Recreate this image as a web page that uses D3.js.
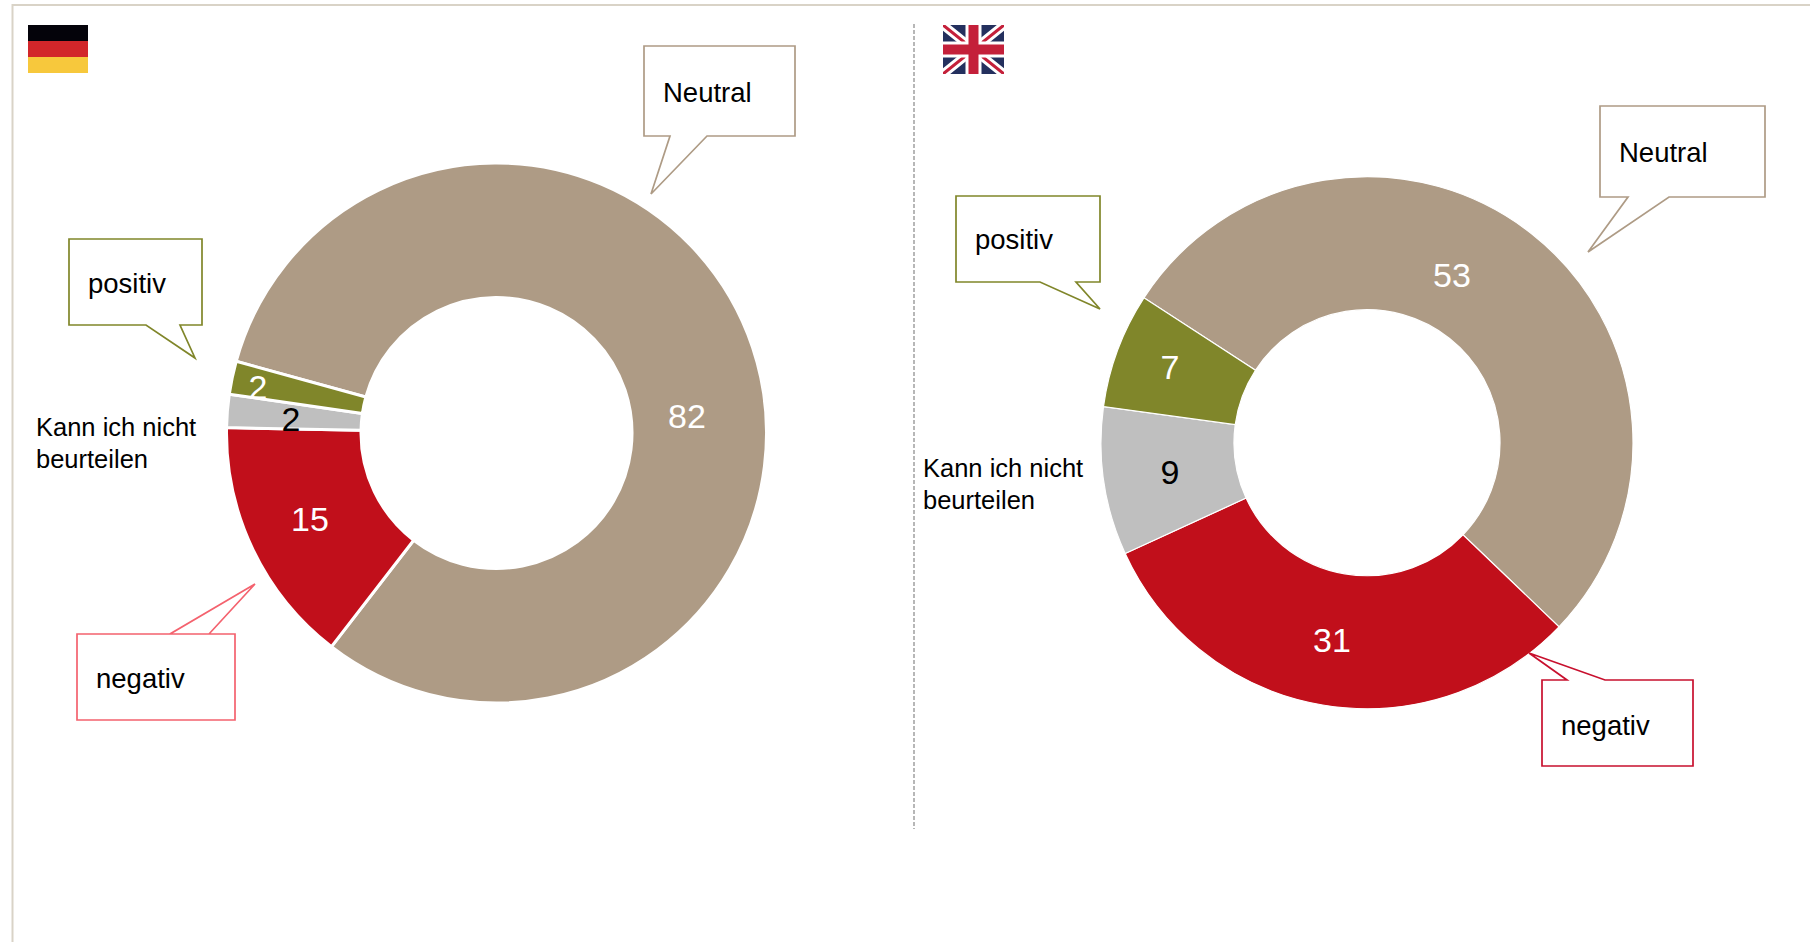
<!DOCTYPE html>
<html>
<head>
<meta charset="utf-8">
<script src="https://cdn.jsdelivr.net/npm/d3@7"></script>
<style>
  html, body { margin: 0; padding: 0; background: #fff; }
  svg { display: block; font-family: "Liberation Sans", Arial, sans-serif; }
</style>
</head>
<body>
<svg id="chart" width="1810" height="942"></svg>
<script>
// Survey answers per country, in clockwise drawing order
const categories = ["Neutral", "negativ", "Kann ich nicht beurteilen", "positiv"];
const valuesGermany = [82, 15, 2, 2];
const valuesUK = [53, 31, 9, 7];
const sliceColors = ["#ae9b85", "#c10f1b", "#bfbfbf", "#80862a"];
const labelColors = ["#fff", "#fff", "#000", "#fff"];

const svg = d3.select("#chart");
const rad = d => d * Math.PI / 180;

// Outer frame and the dashed divider between the two panels
svg.append("path").attr("d", "M12.5,942V5H1810")
  .attr("fill", "none").attr("stroke", "#d9d3c7").attr("stroke-width", 2);
svg.append("line").attr("x1", 914).attr("x2", 914).attr("y1", 24).attr("y2", 829)
  .attr("stroke", "#a6a6a6").attr("stroke-width", 1.6).attr("stroke-dasharray", "4 2");

function donut(values, o) {
  const pie = d3.pie().sort(null).value(d => d)
    .startAngle(rad(o.start)).endAngle(rad(o.start + 360));
  const arc = d3.arc().innerRadius(o.inner).outerRadius(o.outer);
  const g = svg.append("g").attr("transform", `translate(${o.cx},${o.cy})`);
  g.selectAll("path").data(pie(values)).join("path")
    .attr("d", arc)
    .attr("fill", (d, i) => sliceColors[i])
    .attr("stroke", "#fff").attr("stroke-width", o.gap);
  g.selectAll("text").data(pie(values)).join("text")
    .attr("x", (d, i) => o.labels[i][0] - o.cx)
    .attr("y", (d, i) => o.labels[i][1] - o.cy)
    .attr("text-anchor", "middle").attr("dominant-baseline", "central")
    .attr("font-size", 34)
    .attr("fill", (d, i) => labelColors[i])
    .text(d => d.value);
}

donut(valuesGermany, {
  cx: 496.5, cy: 433, outer: 270, inner: 135.5, start: 285.4, gap: 3,
  labels: [[687, 416], [310, 519], [291, 419], [258, 387]]
});
donut(valuesUK, {
  cx: 1367, cy: 442.7, outer: 266, inner: 133, start: 303, gap: 1.2,
  labels: [[1452, 275], [1332, 640], [1170, 472], [1170, 367]]
});

// Callout boxes: rectangle with a pointed tail, tail points listed along the outline
function callout(text, color, box, tail, textPos) {
  const [x0, y0, x1, y1] = box;
  const pts = tail.edge === "bottom"
    ? [[x0, y0], [x1, y0], [x1, y1], tail.a, tail.tip, tail.b, [x0, y1]]
    : [[x0, y0], tail.b, tail.tip, tail.a, [x1, y0], [x1, y1], [x0, y1]];
  svg.append("path").attr("d", d3.line()(pts) + "Z")
    .attr("fill", "#fff").attr("stroke", color).attr("stroke-width", 1.7)
    .attr("stroke-linejoin", "miter");
  svg.append("text").attr("x", textPos[0]).attr("y", textPos[1])
    .attr("font-size", 27.5).attr("fill", "#000").text(text);
}

callout("Neutral", "#ae9b85", [644, 46, 795, 136],
  { edge: "bottom", a: [707, 136], tip: [651, 194], b: [670, 136] }, [663, 102]);
callout("positiv", "#80862a", [69, 239, 202, 325],
  { edge: "bottom", a: [180, 325], tip: [195, 358], b: [146, 325] }, [88, 293]);
callout("negativ", "#f4626e", [77, 634, 235, 720],
  { edge: "top", a: [170, 634], tip: [255, 584], b: [209, 634] }, [96, 688]);

callout("Neutral", "#ae9b85", [1600, 106, 1765, 197],
  { edge: "bottom", a: [1669, 197], tip: [1588, 252], b: [1628, 197] }, [1619, 162]);
callout("positiv", "#80862a", [956, 196, 1100, 282],
  { edge: "bottom", a: [1076, 282], tip: [1100, 309], b: [1040, 282] }, [975, 249]);
callout("negativ", "#c8102e", [1542, 680, 1693, 766],
  { edge: "top", a: [1605, 680], tip: [1529, 653], b: [1567, 680] }, [1561, 735]);

// Plain two-line labels beside the grey slices
[[36, 436, "Kann ich nicht"], [36, 468, "beurteilen"],
 [923, 477, "Kann ich nicht"], [923, 509, "beurteilen"]].forEach(([x, y, t]) => {
  svg.append("text").attr("x", x).attr("y", y).attr("font-size", 25.5).attr("fill", "#000").text(t);
});

// German flag
const deStripes = ["#04030a", "#d2262a", "#f7c83c"];
svg.selectAll("rect.de").data(deStripes).join("rect").attr("class", "de")
  .attr("x", 28).attr("y", (d, i) => 25 + i * 16).attr("width", 60).attr("height", 16)
  .attr("fill", d => d);

// Union flag, clipped to its rectangle
const uk = svg.append("g").attr("transform", "translate(943,25)");
svg.append("clipPath").attr("id", "ukClip").append("rect").attr("width", 61).attr("height", 49);
const ukInner = uk.append("g").attr("clip-path", "url(#ukClip)");
ukInner.append("rect").attr("width", 61).attr("height", 49).attr("fill", "#24305e");
[["M0,0L61,49M61,0L0,49", "#fff", 9], ["M0,0L61,49M61,0L0,49", "#c4203a", 3],
 ["M30.5,0V49M0,24.5H61", "#fff", 16], ["M30.5,0V49M0,24.5H61", "#c4203a", 10]].forEach(([d, c, w]) => {
  ukInner.append("path").attr("d", d).attr("stroke", c).attr("stroke-width", w).attr("fill", "none");
});
</script>
</body>
</html>
